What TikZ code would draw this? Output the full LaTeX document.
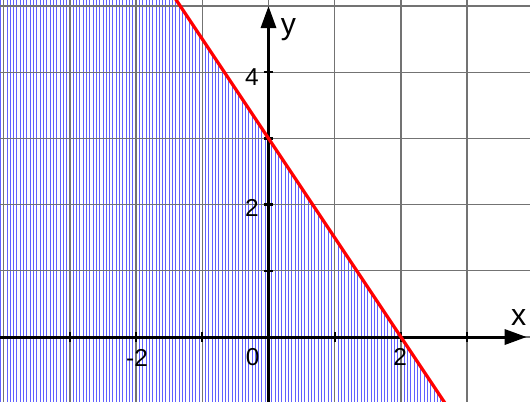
\documentclass[tikz,border=0pt]{standalone}
\usepackage{fontspec}
\setmainfont{Liberation Sans}
\usetikzlibrary{arrows.meta}
\tikzset{
  gridline/.style={draw=black!55, line width=0.55pt},
  hatch/.style={draw=blue!62, line width=0.4pt},
  axis/.style={draw=black, line width=1.3pt, -{Triangle[length=9.5pt,width=6.5pt]}},
  tick/.style={draw=black, line width=1pt},
  numlabel/.style={font=\fontsize{10.5}{12}\selectfont, inner sep=0pt},
  axlabel/.style={font=\fontsize{13}{15}\selectfont, inner sep=0pt},
  graphline/.style={draw=red, line width=1.4pt}
}
\begin{document}
\begin{tikzpicture}[x=1cm,y=1cm]
\useasboundingbox (-4.056,-0.967) rectangle (3.950,5.091);
\clip (-4.056,-0.967) rectangle (3.950,5.091);
% hatching below the line y = 3 - 1.5x
\begin{scope}
  \clip (-4.2,-1.1) -- (-4.2,5.3) -- (-1.5333,5.3) -- (2.7333,-1.1) -- cycle;
  \foreach \i in {0,...,165}{
    \draw[hatch] (-4.05+0.05*\i,-1.1) -- (-4.05+0.05*\i,5.3);
  }
\end{scope}
% grid
\foreach \gx in {-4,...,3}{
  \draw[gridline] (\gx,-1.1) -- (\gx,5.3);
}
\foreach \gy in {0,...,5}{
  \draw[gridline] (-4.2,\gy) -- (4.1,\gy);
}
% axes
\coordinate (xs) at (-4.2,0);
\coordinate (xe) at (3.90,0);
\coordinate (ys) at (0,-1.1);
\coordinate (ye) at (0,5.0);
\draw[axis] (xs) -- (xe);
\draw[axis] (ys) -- (ye);
% ticks
\foreach \tx in {-3,-2,-1,1,2,3}{
  \draw[tick] (\tx,-0.075) -- (\tx,0.075);
}
\foreach \ty in {1,2,3,4}{
  \draw[tick] (-0.075,\ty) -- (0.075,\ty);
}
% labels
\node[numlabel] (lm2) at (-1.985,-0.31) {-2};
\node[numlabel] (l0) at (-0.24,-0.31) {0};
\node[numlabel] (l2) at (1.99,-0.30) {2};
\node[numlabel] (ly2) at (-0.25,1.95) {2};
\node[numlabel] (ly4) at (-0.25,3.93) {4};
\node[axlabel] (lx) at (3.78,0.30) {x};
\node[axlabel] (lyy) at (0.30,4.65) {y};
% boundary line
\coordinate (ta) at (-1.5333,5.3);
\coordinate (tb) at (2.7333,-1.1);
\draw[graphline] (ta) -- (tb);
\end{tikzpicture}
\end{document}
